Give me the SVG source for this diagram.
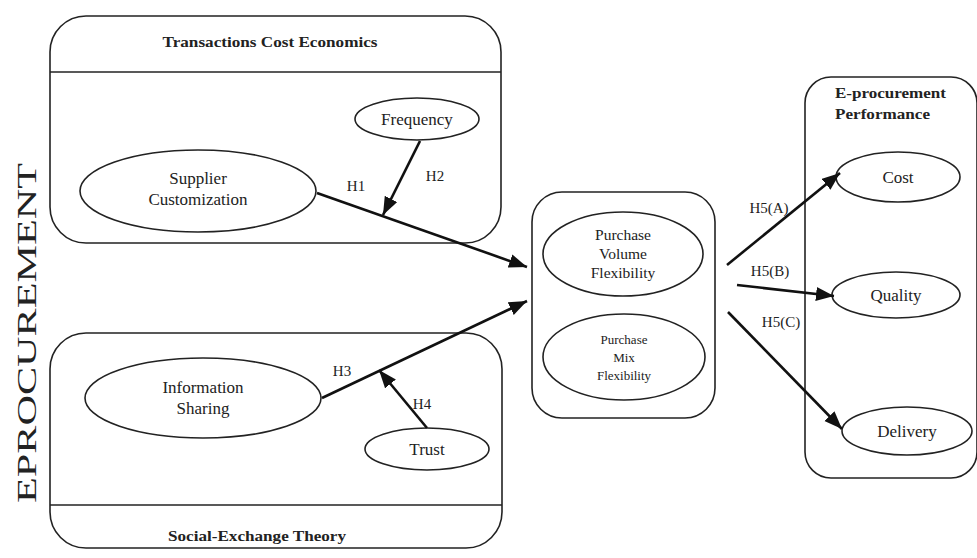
<svg xmlns="http://www.w3.org/2000/svg" width="977" height="558" viewBox="0 0 977 558">
<style>
.box{fill:none;stroke:#222;stroke-width:1.6}
.el{fill:#fff;stroke:#222;stroke-width:1.6}
.t{font-family:"Liberation Serif","Times New Roman",serif;fill:#222;text-anchor:middle}
.n{font-size:17px}
.s{font-size:15.5px}
.b{font-size:15px;font-weight:bold}
.h{font-size:15px}
.c{stroke:#111;stroke-width:2.6;fill:none;marker-end:url(#ah)}
</style>
<defs>
<marker id="ah" markerUnits="userSpaceOnUse" markerWidth="20" markerHeight="16" refX="18" refY="7" orient="auto"><path d="M0,0 L18,7 L0,14 z" fill="#111"/></marker>
</defs>
<rect width="977" height="558" fill="#fff"/>
<text class="t" transform="translate(36,333) rotate(-90)" font-size="28" textLength="340" lengthAdjust="spacingAndGlyphs">EPROCUREMENT</text>
<g id="tce">
<rect class="box" x="50" y="16" width="451" height="227" rx="36"/>
<line class="box" x1="50" y1="72" x2="501" y2="72"/>
<text class="t b" x="270" y="47" textLength="215" lengthAdjust="spacingAndGlyphs">Transactions Cost Economics</text>
</g>
<g id="set">
<rect class="box" x="50" y="333" width="452" height="215" rx="36"/>
<line class="box" x1="50" y1="505" x2="502" y2="505"/>
<text class="t b" x="257" y="541" textLength="178" lengthAdjust="spacingAndGlyphs">Social-Exchange Theory</text>
</g>
<g id="flex">
<rect class="box" x="532" y="192" width="183" height="226" rx="30"/>
</g>
<g id="perf">
<rect class="box" x="805" y="77" width="172" height="401" rx="26"/>
<text class="t b" x="835" y="98" style="text-anchor:start" textLength="111" lengthAdjust="spacingAndGlyphs">E-procurement</text>
<text class="t b" x="835" y="119" style="text-anchor:start" textLength="95" lengthAdjust="spacingAndGlyphs">Performance</text>
</g>
<g id="frequency"><ellipse class="el" cx="417" cy="119" rx="62" ry="21"/><text class="t n" x="417" y="125">Frequency</text></g>
<g id="supplier"><ellipse class="el" cx="198" cy="191" rx="118" ry="41"/><text class="t n" x="198" y="184">Supplier</text><text class="t n" x="198" y="205">Customization</text></g>
<g id="info"><ellipse class="el" cx="203" cy="398" rx="118" ry="40"/><text class="t n" x="203" y="393">Information</text><text class="t n" x="203" y="414">Sharing</text></g>
<g id="trust"><ellipse class="el" cx="427" cy="449" rx="62" ry="21"/><text class="t n" x="427" y="455">Trust</text></g>
<g id="volume"><ellipse class="el" cx="623" cy="254" rx="80" ry="42"/><text class="t s" x="623" y="240">Purchase</text><text class="t s" x="623" y="259">Volume</text><text class="t s" x="623" y="278">Flexibility</text></g>
<g id="mix"><ellipse class="el" cx="624" cy="357" rx="81" ry="43"/><text class="t" font-size="13" x="624" y="344">Purchase</text><text class="t" font-size="13" x="624" y="362">Mix</text><text class="t" font-size="13" x="624" y="380">Flexibility</text></g>
<g id="cost"><ellipse class="el" cx="898" cy="177" rx="62" ry="25"/><text class="t n" x="898" y="183">Cost</text></g>
<g id="quality"><ellipse class="el" cx="896" cy="295" rx="64" ry="23"/><text class="t n" x="896" y="301">Quality</text></g>
<g id="delivery"><ellipse class="el" cx="907" cy="431" rx="65" ry="24"/><text class="t n" x="907" y="437">Delivery</text></g>
<g id="connectors">
<line class="c" x1="317" y1="193" x2="527" y2="267"/>
<line class="c" x1="420" y1="141" x2="383" y2="215"/>
<line class="c" x1="322" y1="398" x2="527" y2="301"/>
<line class="c" x1="427" y1="428" x2="379" y2="370"/>
<line class="c" x1="727" y1="265" x2="840" y2="173"/>
<line class="c" x1="737" y1="285" x2="834" y2="296"/>
<line class="c" x1="728" y1="312" x2="842" y2="429"/>
<text class="t h" x="356" y="191">H1</text>
<text class="t h" x="435" y="181">H2</text>
<text class="t h" x="342" y="376">H3</text>
<text class="t h" x="422" y="409">H4</text>
<text class="t h" x="769" y="213">H5(A)</text>
<text class="t h" x="770" y="276">H5(B)</text>
<text class="t h" x="781" y="327">H5(C)</text>
</g>
</svg>
